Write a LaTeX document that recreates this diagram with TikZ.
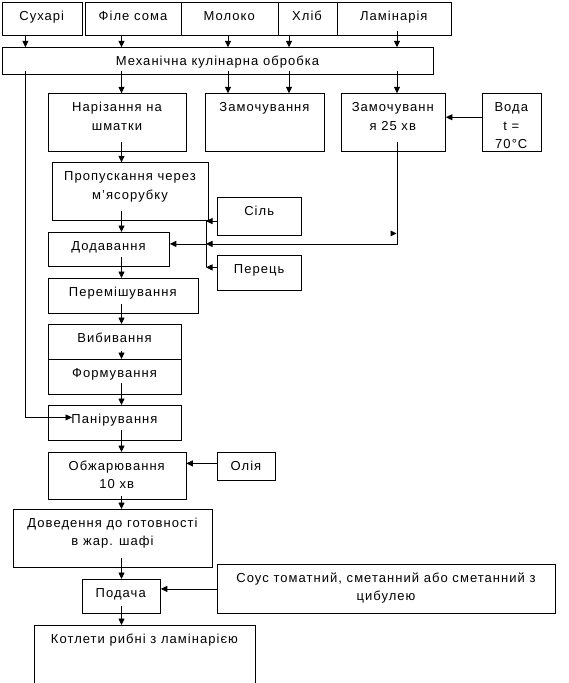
\documentclass[tikz,border=0pt]{standalone}
\usepackage{fontspec}
\setmainfont{Liberation Sans}[LetterSpace=8]
\usetikzlibrary{arrows.meta,calc}
\tikzset{
  boxs/.style={draw, line width=0.8pt, inner sep=0pt, rectangle},
  txt/.style={inner sep=0pt, align=center, font=\fontsize{13}{18.5}\selectfont},
  arr/.style={line width=0.8pt, -{Triangle[length=6.5pt,width=6pt]}},
  ln/.style={line width=0.8pt},
}
% name x1 y1 x2 y2 text
\newcommand\bx[6]{%
  \node[boxs, minimum width={(#4-#2)*1pt}, minimum height={(#5-#3)*1pt}, anchor=north west] (#1) at (#2,#3) {};
  \node[txt, anchor=north] (#1t) at ({(#2+#4)/2},{#3+8}) {\rule{0pt}{10pt}#6};}
\newcommand\vdown[4]{\draw[arr] ($(#1.south -| #3)+(0,-#4)$) -- (#2.north -| #3);}
\begin{document}
\begin{tikzpicture}[x=1pt,y=-1pt]
\useasboundingbox (0,0) rectangle (568,683);
\coordinate (cA) at (25.4,0);
\coordinate (cB) at (121.5,0);
\coordinate (cC) at (228,0);
\coordinate (cD) at (289,0);
\coordinate (cE) at (397,0);
\coordinate (cF) at (206,0);
\bx{suh}{2}{2}{81.5}{35}{Сухарі}
\bx{file}{85}{2}{181}{35}{Філе сома}
\bx{mol}{181}{2}{277.5}{35}{Молоко}
\bx{hlib}{277.5}{2}{336.6}{35}{Хліб}
\bx{lam}{336.6}{2}{451}{35}{Ламінарія}
\bx{mech}{2}{47.3}{433}{74}{Механічна кулінарна обробка}
\bx{nar}{48}{93.3}{186}{151}{Нарізання на\\шматки}
\bx{zam}{205}{93.3}{324}{151}{Замочування}
\bx{zamb}{340.6}{93.3}{445}{151}{Замочуванн\\я 25 хв}
\bx{voda}{482}{93.3}{540.6}{151}{Вода\\t =\\70°C}
\bx{prop}{52}{162.3}{208}{220.3}{Пропускання через\\м’ясорубку}
\bx{sil}{217}{197}{301.4}{235}{Сіль}
\bx{dod}{48}{232}{169}{266}{Додавання}
\bx{per}{217}{255}{301.4}{290}{Перець}
\bx{perem}{48}{278}{197.5}{313}{Перемішування}
\bx{vyb}{48}{324}{181}{359}{Вибивання}
\bx{form}{48}{359}{181}{394}{Формування}
\bx{pan}{48}{405}{181}{440}{Панірування}
\bx{obzh}{48}{452}{185.5}{499}{Обжарювання\\10 хв}
\bx{olia}{217}{452}{275}{480}{Олія}
\bx{dov}{13}{509}{212}{567}{Доведення до готовності\\в жар. шафі}
\bx{pod}{81.5}{579}{160}{613}{Подача}
\bx{sous}{217}{564}{555}{613}{Соус томатний, сметанний або сметанний з\\цибулею}
\bx{kot}{34}{625}{255}{690}{Котлети рибні з ламінарією}
% top arrows
\vdown{suh}{mech}{cA}{0}
\vdown{file}{mech}{cB}{0}
\vdown{mol}{mech}{cC}{0}
\vdown{hlib}{mech}{cD}{0}
\vdown{lam}{mech}{cE}{5}
% from mech
\vdown{mech}{nar}{cB}{4}
\vdown{mech}{zam}{cC}{4}
\vdown{mech}{zam}{cD}{4}
\vdown{mech}{zamb}{cE}{4}
\draw[arr] ($(voda.west)+(0,-5.3)$) -- ($(zamb.east)+(0,-5.3)$);
% left line to Панірування
\coordinate (panin) at ($(pan.west)+(24,-5.5)$);
\draw[arr] ($(mech.south -| cA)+(0,-4)$) |- (panin);
% main chain
\vdown{nar}{prop}{cB}{10}
\vdown{prop}{dod}{cB}{10}
\vdown{dod}{perem}{cB}{10}
\vdown{perem}{vyb}{cB}{10}
\vdown{vyb}{form}{cB}{9}
\vdown{form}{pan}{cB}{12}
\vdown{pan}{obzh}{cB}{11}
\vdown{obzh}{dov}{cB}{4}
\vdown{dov}{pod}{cB}{10}
\vdown{pod}{kot}{cB}{8}
% bus
\coordinate (bt) at (prop.south -| cF);
\coordinate (bm) at ($(dod.east -| cF)+(0,-5.5)$);
\coordinate (bb) at ($(per.west -| cF)+(0,-5.5)$);
\draw[ln] (bt) -- (bb);
\draw[arr] (sil.west |- bt) -- (bt);
\draw[arr] ($(per.west)+(0,-5.5)$) -- (bb);
\draw[arr] (bm) -- ($(dod.east)+(0,-5.5)$);
\coordinate (zc) at (bm -| cE);
\draw[arr] ($(zamb.south -| cE)+(0,-10)$) -- (zc) -- (bm);
\fill ($(zc)+(-6.5,-13.5)$) -- ($(zc)+(-0.5,-10.5)$) -- ($(zc)+(-6.5,-7.5)$) -- cycle;
% Олія, Соус
\draw[arr] ($(olia.west)+(0,-3)$) -- ($(olia.west -| obzh.east)+(0,-3)$);
\draw[arr] (sous.west) -- (sous.west -| pod.east);
\end{tikzpicture}
\end{document}
